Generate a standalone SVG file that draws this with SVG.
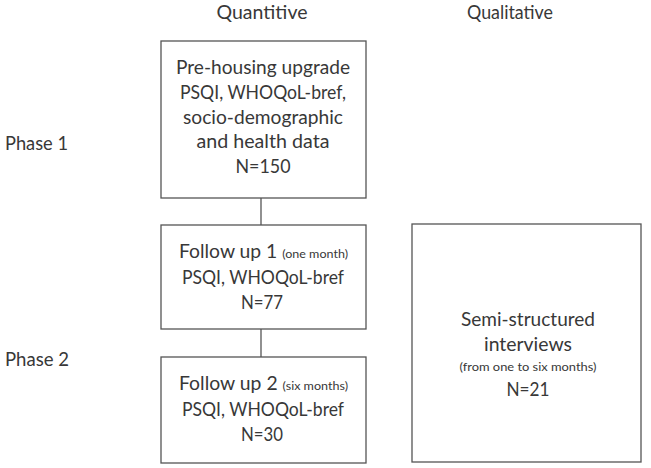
<svg xmlns="http://www.w3.org/2000/svg" width="651" height="468" viewBox="0 0 651 468">
<style>
  text { font-family: Lato, "Liberation Sans", sans-serif; fill: #383838; font-size: 18.5px; }
  .c { text-anchor: middle; }
  .s { font-size: 12px; }
  .box { fill: #ffffff; stroke: #555555; stroke-width: 1.3; }
  .conn { stroke: #555555; stroke-width: 1.3; fill: none; }
</style>
<rect width="651" height="468" fill="#ffffff"/>
<g id="headers">
  <text class="c" x="262" y="19" textLength="91" lengthAdjust="spacingAndGlyphs">Quantitive</text>
  <text class="c" x="510" y="19" textLength="86" lengthAdjust="spacingAndGlyphs">Qualitative</text>
  <text x="5" y="150" textLength="63" lengthAdjust="spacingAndGlyphs">Phase 1</text>
  <text x="5" y="366" textLength="64" lengthAdjust="spacingAndGlyphs">Phase 2</text>
</g>
<g id="connectors">
  <line class="conn" x1="261" y1="198" x2="261" y2="225"/>
  <line class="conn" x1="261" y1="329" x2="261" y2="357"/>
</g>
<g id="pre-housing">
  <rect class="box" x="161" y="41" width="205" height="157"/>
  <text class="c" x="263" y="74" textLength="174" lengthAdjust="spacingAndGlyphs">Pre-housing upgrade</text>
  <text class="c" x="263" y="99" textLength="166" lengthAdjust="spacingAndGlyphs">PSQI, WHOQoL-bref,</text>
  <text class="c" x="263" y="124" textLength="160" lengthAdjust="spacingAndGlyphs">socio-demographic</text>
  <text class="c" x="263" y="148" textLength="133" lengthAdjust="spacingAndGlyphs">and health data</text>
  <text class="c" x="263" y="173" textLength="55" lengthAdjust="spacingAndGlyphs">N=150</text>
</g>
<g id="follow-up-1">
  <rect class="box" x="161" y="225" width="205" height="104"/>
  <text class="c" x="263.5" y="258" textLength="169" lengthAdjust="spacingAndGlyphs">Follow up 1 <tspan class="s">(one month)</tspan></text>
  <text class="c" x="263" y="284" textLength="162" lengthAdjust="spacingAndGlyphs">PSQI, WHOQoL-bref</text>
  <text class="c" x="262" y="309" textLength="42" lengthAdjust="spacingAndGlyphs">N=77</text>
</g>
<g id="follow-up-2">
  <rect class="box" x="161" y="357" width="205" height="106"/>
  <text class="c" x="263.5" y="390" textLength="169" lengthAdjust="spacingAndGlyphs">Follow up 2 <tspan class="s">(six months)</tspan></text>
  <text class="c" x="263" y="416" textLength="162" lengthAdjust="spacingAndGlyphs">PSQI, WHOQoL-bref</text>
  <text class="c" x="262" y="441" textLength="42" lengthAdjust="spacingAndGlyphs">N=30</text>
</g>
<g id="interviews">
  <rect class="box" x="412" y="224" width="229" height="238"/>
  <text class="c" x="528" y="326" textLength="134" lengthAdjust="spacingAndGlyphs">Semi-structured</text>
  <text class="c" x="528" y="351" textLength="88" lengthAdjust="spacingAndGlyphs">interviews</text>
  <text class="c s" x="528" y="371" textLength="137" lengthAdjust="spacingAndGlyphs">(from one to six months)</text>
  <text class="c" x="528" y="396" textLength="43" lengthAdjust="spacingAndGlyphs">N=21</text>
</g>
</svg>
